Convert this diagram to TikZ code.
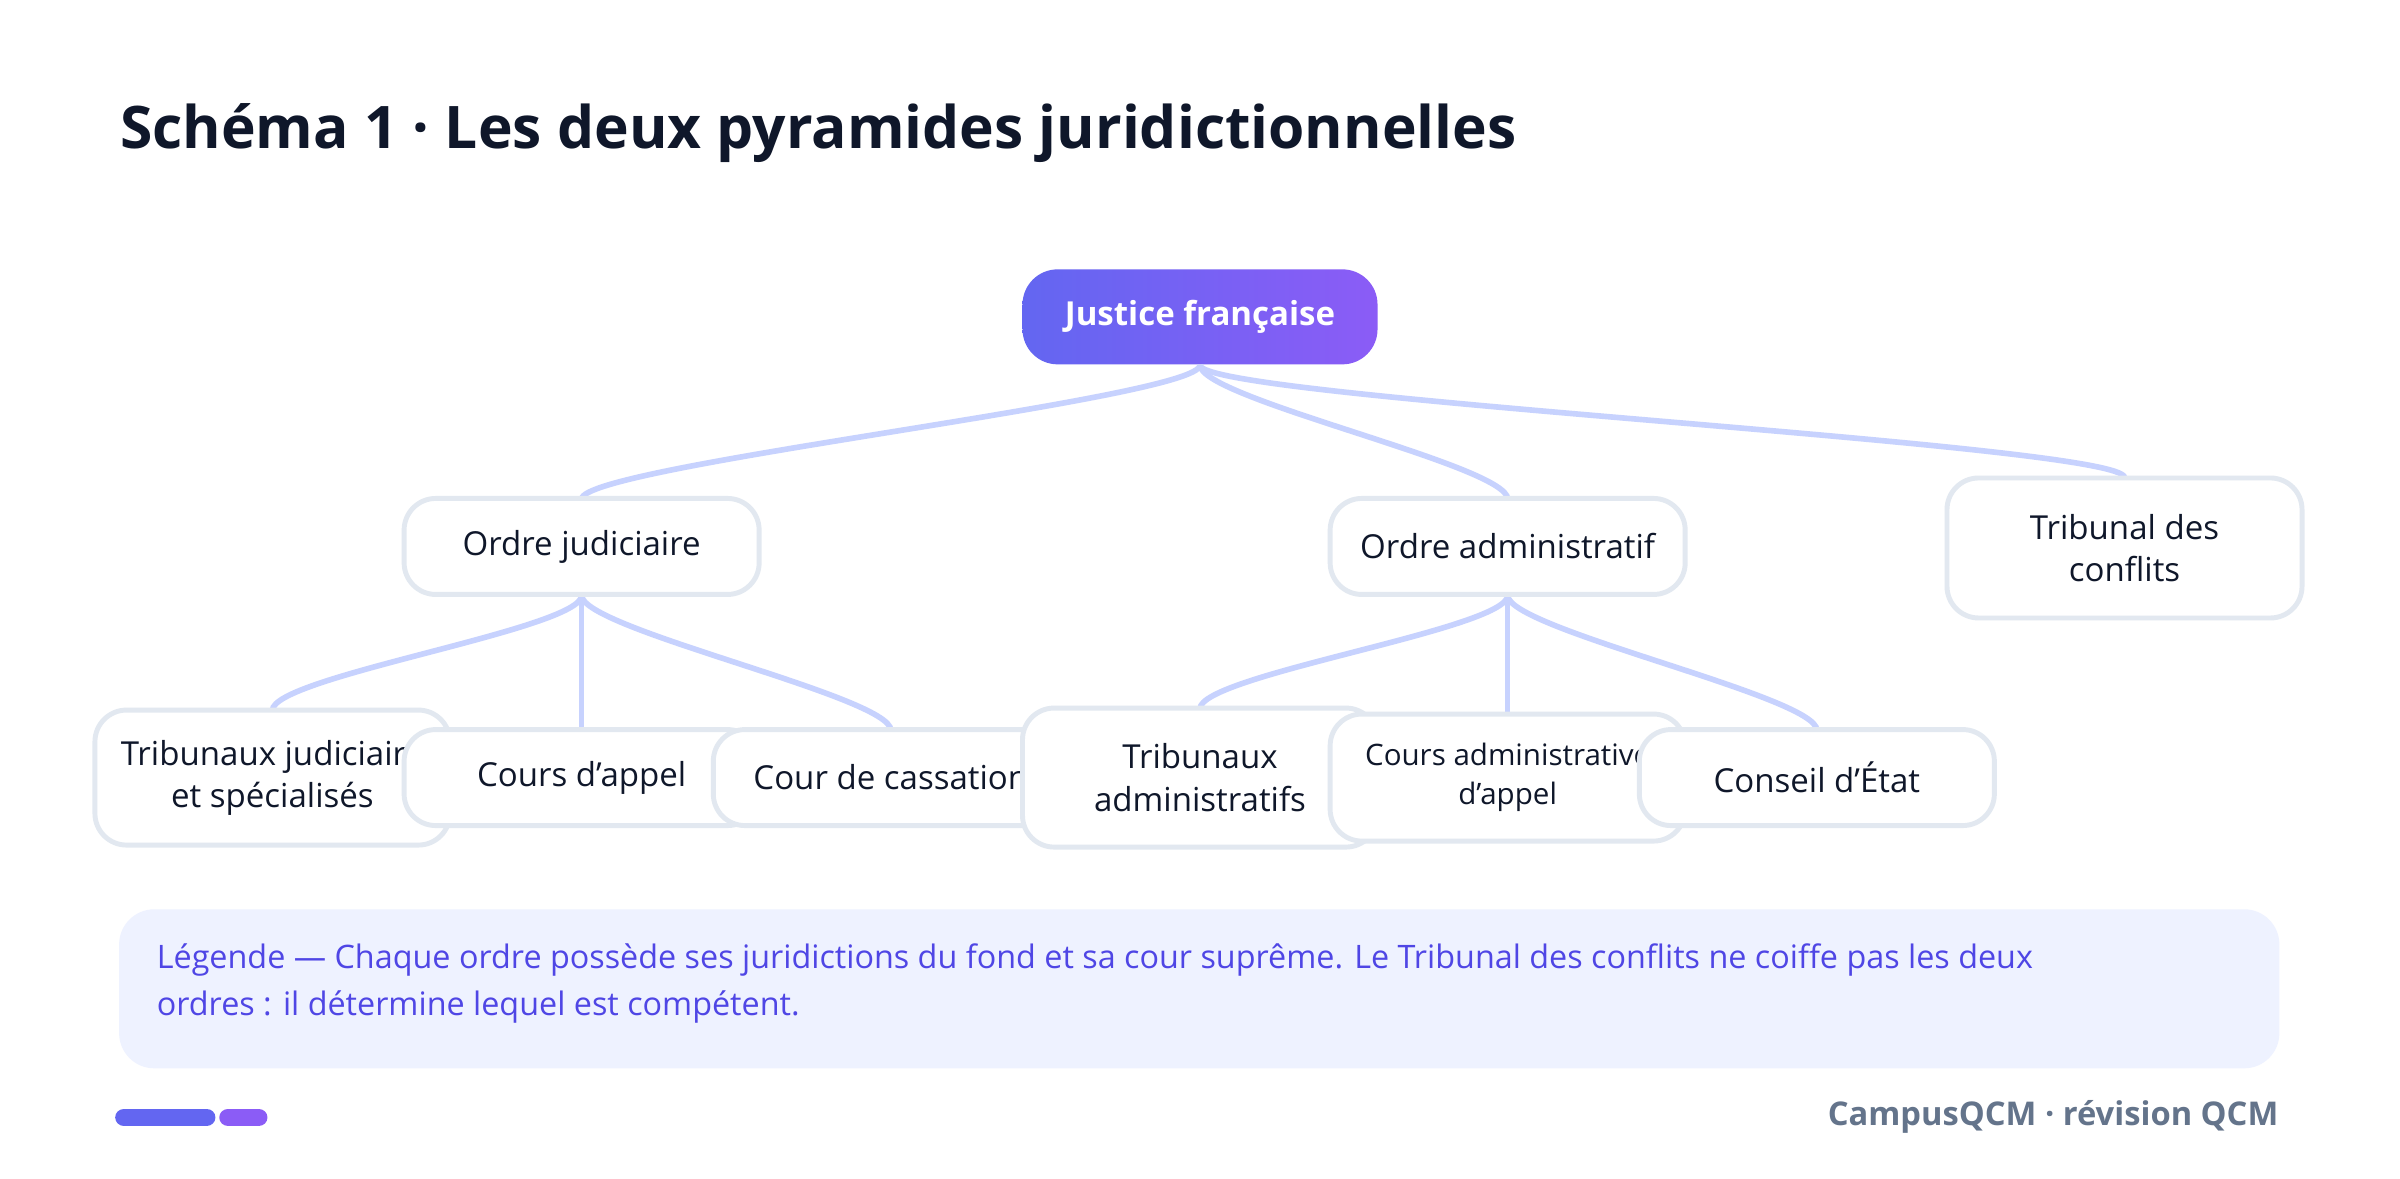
\documentclass[tikz,border=0pt]{standalone}
\usepackage{fontspec}
\setmainfont{Open Sans}
\usepackage{tikz}
\usetikzlibrary{positioning}
\definecolor{ink}{HTML}{0F172A}
\definecolor{indA}{HTML}{6366F1}
\definecolor{indB}{HTML}{8B5CF6}
\definecolor{edgeC}{HTML}{C7D2FE}
\definecolor{boxC}{HTML}{E2E8F0}
\definecolor{legF}{HTML}{EEF2FF}
\definecolor{legT}{HTML}{4F46E5}
\definecolor{footC}{HTML}{64748B}
\tikzset{
  box/.style={draw=boxC,line width=1.4pt,fill=white,rounded corners=9pt,
    minimum width=3.55cm,align=center,font=\fontsize{9.4}{12}\selectfont,text=ink},
  link/.style={draw=edgeC,line width=1.6pt},
}
\begin{document}
\begin{tikzpicture}[x=0.01531cm,y=-0.01531cm]
	\useasboundingbox[fill=white] (0,0) rectangle (1568,770);
	\node[anchor=base west,inner sep=0pt,font=\fontsize{16.7}{20}\selectfont\bfseries,text=ink] (title) at (78,97) {Schéma 1 · Les deux pyramides juridictionnelles};
	% racine
	\node[rounded corners=10pt,left color=indA,right color=indB,minimum width=3.55cm,minimum height=0.95cm,
	  text=white,font=\fontsize{9.4}{12}\selectfont\bfseries] (root) at (784,207) {Justice française};
	% liens
	\coordinate (pj) at (380,326); \coordinate (pa) at (985,326); \coordinate (pc) at (1388,312);
	\coordinate (ptj) at (178,464); \coordinate (pca) at (380,477); \coordinate (pcc) at (582,477);
	\coordinate (pta) at (784,463); \coordinate (pcaa) at (985,467); \coordinate (pce) at (1187,477);
	\coordinate (sj) at (380,389); \coordinate (sa) at (985,389);
	\foreach \a/\b in {root.south/pj,root.south/pa,root.south/pc,sj/ptj,sj/pca,sj/pcc,sa/pta,sa/pcaa,sa/pce}
		\draw[link] (\a) .. controls +(0,22) and +(0,-22) .. (\b);
	% ordres
	\node[box,minimum height=0.96cm] (judic) at (380,357) {Ordre judiciaire};
	\node[box,minimum height=0.96cm] (admin) at (985,357) {Ordre administratif};
	\node[box,minimum height=1.4cm] (conf) at (1388,358) {Tribunal des\\conflits};
	% juridictions
	\node[box,minimum height=1.35cm] (tj) at (178,508) {Tribunaux judiciaire\\et spécialisés};
	\node[box,minimum height=0.96cm] (ca) at (380,508) {Cours d'appel};
	\node[box,minimum height=0.96cm] (cc) at (582,508) {Cour de cassation};
	\node[box,minimum height=1.39cm] (ta) at (784,508) {Tribunaux\\administratifs};
	\node[box,minimum height=1.27cm,font=\fontsize{8.4}{11}\selectfont] (caa) at (985,508) {Cours administrative\\d'appel};
	\node[box,minimum height=0.96cm] (ce) at (1187,508) {Conseil d'État};
	% légende
	\node[fill=legF,rounded corners=10pt,minimum width=21.6cm,minimum height=1.59cm] (leg) at (783.5,646) {};
	\node[anchor=north west,align=left,inner sep=0pt,text=legT,font=\fontsize{9.2}{13.5}\selectfont] (legtext) at (102,616)
	  {Légende — Chaque ordre possède ses juridictions du fond et sa cour suprême. Le Tribunal des conflits ne coiffe pas les deux\\ordres : il détermine lequel est compétent.};
	% pied de page
	\draw[indA,line width=5pt,line cap=round] (81,730) coordinate (b1) -- (135,730) coordinate (b2);
	\draw[indB,line width=5pt,line cap=round] (149,730) coordinate (b3) -- (169,730) coordinate (b4);
	\node[anchor=east,inner sep=0pt,text=footC,font=\fontsize{9.3}{12}\selectfont\bfseries] (foot) at (1489,730) {CampusQCM · révision QCM};
\end{tikzpicture}
\end{document}
